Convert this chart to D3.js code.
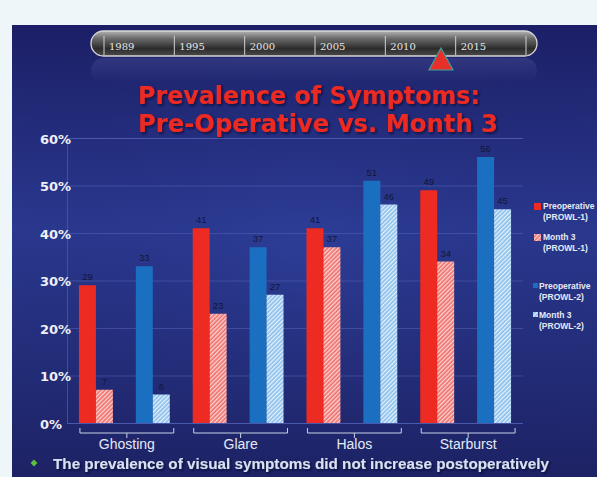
<!DOCTYPE html>
<html>
<head>
<meta charset="utf-8">
<script src="https://cdn.jsdelivr.net/npm/d3@7"></script>
<style>
  body { margin: 0; background: #eef6fa; }
  svg { display: block; }
</style>
</head>
<body>
<svg id="chart" width="597" height="477"></svg>
<script>
// Symptom prevalence (%) by study and visit
const categories = ["Ghosting", "Glare", "Halos", "Starburst"];
const preProwl1 = [29, 41, 41, 49];
const month3Prowl1 = [7, 23, 37, 34];
const preProwl2 = [33, 37, 51, 56];
const month3Prowl2 = [6, 27, 46, 45];
const yTicks = [0, 10, 20, 30, 40, 50, 60];
const timelineYears = ["1989", "1995", "2000", "2005", "2010", "2015"];
const titleLines = ["Prevalence of Symptoms:", "Pre-Operative vs. Month 3"];
const legendLabels = [
  ["Preoperative", "(PROWL-1)"],
  ["Month 3", "(PROWL-1)"],
  ["Preoperative", "(PROWL-2)"],
  ["Month 3", "(PROWL-2)"]
];
const footnote = "The prevalence of visual symptoms did not increase postoperatively";

const series = [
  { study: 0, phase: "pre", values: preProwl1, fill: "#ee2b22" },
  { study: 0, phase: "m3", values: month3Prowl1, fill: "url(#hatchPink)" },
  { study: 1, phase: "pre", values: preProwl2, fill: "#1b6fc1" },
  { study: 1, phase: "m3", values: month3Prowl2, fill: "url(#hatchBlue)" }
];

const svg = d3.select("#chart");
const defs = svg.append("defs");

// slide background
const bg = defs.append("linearGradient").attr("id", "slideBg")
  .attr("x1", 0).attr("y1", 0).attr("x2", 0).attr("y2", 1);
bg.append("stop").attr("offset", "0%").attr("stop-color", "#1c1f66");
bg.append("stop").attr("offset", "45%").attr("stop-color", "#2a3990");
bg.append("stop").attr("offset", "100%").attr("stop-color", "#1d2264");

const glow = defs.append("radialGradient").attr("id", "slideGlow")
  .attr("cx", "0.5").attr("cy", "0.5").attr("r", "0.6");
glow.append("stop").attr("offset", "0%").attr("stop-color", "#3346a6").attr("stop-opacity", 0.35);
glow.append("stop").attr("offset", "100%").attr("stop-color", "#1a1d60").attr("stop-opacity", 0);

// timeline capsule shading
const cap = defs.append("linearGradient").attr("id", "capsule")
  .attr("x1", 0).attr("y1", 0).attr("x2", 0).attr("y2", 1);
cap.append("stop").attr("offset", "0%").attr("stop-color", "#b4b4b4");
cap.append("stop").attr("offset", "30%").attr("stop-color", "#6a6a6a");
cap.append("stop").attr("offset", "70%").attr("stop-color", "#2c2c2c");
cap.append("stop").attr("offset", "100%").attr("stop-color", "#4a4a4a");

const refl = defs.append("linearGradient").attr("id", "reflection")
  .attr("x1", 0).attr("y1", 0).attr("x2", 0).attr("y2", 1);
refl.append("stop").attr("offset", "0%").attr("stop-color", "#8ea0e0").attr("stop-opacity", 0.16);
refl.append("stop").attr("offset", "100%").attr("stop-color", "#8ea0e0").attr("stop-opacity", 0);

// diagonal hatching for month-3 bars
function hatch(id, base, stripe) {
  const p = defs.append("pattern").attr("id", id)
    .attr("patternUnits", "userSpaceOnUse")
    .attr("width", 3).attr("height", 3)
    .attr("patternTransform", "rotate(45)");
  p.append("rect").attr("width", 3).attr("height", 3).attr("fill", base);
  p.append("rect").attr("width", 1.3).attr("height", 3).attr("fill", stripe);
}
hatch("hatchPink", "#f0706c", "#fcd6d4");
hatch("hatchBlue", "#8cbfea", "#e4f2ff");

const shadow = defs.append("filter").attr("id", "shadow")
  .attr("x", "-5%").attr("y", "-10%").attr("width", "110%").attr("height", "130%");
shadow.append("feDropShadow").attr("dx", 1.5).attr("dy", 1.5)
  .attr("stdDeviation", 0.8).attr("flood-color", "#100c30").attr("flood-opacity", 0.85);

// slide
svg.append("rect").attr("x", 12).attr("y", 25).attr("width", 585).attr("height", 452)
  .attr("fill", "url(#slideBg)");
svg.append("rect").attr("x", 12).attr("y", 25).attr("width", 585).attr("height", 452)
  .attr("fill", "url(#slideGlow)");

// timeline
const tl = svg.append("g");
tl.append("rect").attr("x", 91).attr("y", 58).attr("width", 446).attr("height", 25)
  .attr("rx", 12.5).attr("fill", "url(#reflection)");
tl.append("rect").attr("x", 91).attr("y", 31).attr("width", 446).attr("height", 25)
  .attr("rx", 12.5).attr("fill", "url(#capsule)")
  .attr("stroke", "#d8d8d8").attr("stroke-width", 1.3);
const tx = d3.scalePoint().domain(d3.range(timelineYears.length + 1)).range([104, 526]);
tl.selectAll("line.div").data(d3.range(timelineYears.length + 1)).join("line")
  .attr("x1", d => tx(d)).attr("x2", d => tx(d))
  .attr("y1", 36).attr("y2", 55)
  .attr("stroke", "#cfcfcf").attr("stroke-width", 1);
tl.selectAll("text").data(timelineYears).join("text")
  .attr("x", (d, i) => tx(i) + 5).attr("y", 50)
  .attr("font-family", "'DejaVu Serif', 'Liberation Serif', serif")
  .attr("font-size", 10).attr("fill", "#e6e6e6")
  .text(d => d);
tl.append("path")
  .attr("d", d3.line()([[441, 48], [453, 70], [429, 70]]) + "Z")
  .attr("fill", "#e8302a").attr("stroke", "#3a9e9c").attr("stroke-width", 1.2);

// title
const title = svg.append("g").attr("filter", "url(#shadow)");
title.selectAll("text").data(titleLines).join("text")
  .attr("x", 138).attr("y", (d, i) => 103.5 + i * 28.2)
  .attr("font-family", "'DejaVu Sans', Verdana, sans-serif")
  .attr("font-weight", "bold").attr("font-size", 24)
  .attr("fill", "#ec2a20")
  .attr("textLength", (d, i) => i === 0 ? 342 : 360)
  .attr("lengthAdjust", "spacingAndGlyphs")
  .text(d => d);

// scales
const x0 = d3.scaleBand().domain(d3.range(categories.length * 2))
  .range([67, 523]).paddingInner(0.4035).paddingOuter(0.21);
const x1 = d3.scaleBand().domain(["pre", "m3"]).range([0, x0.bandwidth()]);
const y = d3.scaleLinear().domain([0, 60]).range([423, 138]);

// grid + y axis
const yAxis = svg.append("g").attr("transform", "translate(67,0)")
  .call(d3.axisLeft(y).tickValues(yTicks).tickSize(-456).tickPadding(0)
    .tickFormat(d => d + "%"));
yAxis.select(".domain").attr("stroke", "#4d5db0").attr("stroke-opacity", 0.7);
yAxis.selectAll(".tick line").attr("stroke", "#5262b8").attr("stroke-opacity", 0.55);
yAxis.selectAll(".tick text")
  .attr("x", -27).attr("dy", "0.4em")
  .attr("text-anchor", "start")
  .attr("font-family", "'DejaVu Sans', Verdana, sans-serif")
  .attr("font-weight", "bold").attr("font-size", 13)
  .attr("fill", "#eef0f8");

// bars
const bars = svg.append("g");
series.forEach(s => {
  bars.append("g").selectAll("rect").data(s.values).join("rect")
    .attr("x", (d, i) => x0(i * 2 + s.study) + x1(s.phase))
    .attr("y", d => y(d))
    .attr("width", x1.bandwidth())
    .attr("height", d => y(0) - y(d))
    .attr("fill", s.fill);
  bars.append("g").selectAll("text").data(s.values).join("text")
    .attr("x", (d, i) => x0(i * 2 + s.study) + x1(s.phase) + x1.bandwidth() / 2)
    .attr("y", d => y(d) - 5)
    .attr("text-anchor", "middle")
    .attr("font-family", "'Liberation Sans', Arial, sans-serif")
    .attr("font-size", 9.5).attr("fill", "#12163a")
    .text(d => d);
});

// category brackets
const brackets = svg.append("g");
categories.forEach((c, i) => {
  const a = x0(i * 2) + 1;
  const b = x0(i * 2 + 1) + x0.bandwidth() + 4;
  const m = (a + b) / 2;
  brackets.append("path")
    .attr("d", `M${a},428V433H${b}V428M${m},433V438`)
    .attr("fill", "none").attr("stroke", "#c9d1e6").attr("stroke-width", 1);
  brackets.append("text")
    .attr("x", m).attr("y", 448.5)
    .attr("text-anchor", "middle")
    .attr("font-family", "'Liberation Sans', Arial, sans-serif")
    .attr("font-size", 14).attr("fill", "#e4eaf5")
    .text(c);
});

// legend
const legend = svg.append("g");
legendLabels.forEach((lab, i) => {
  const s = series[i];
  const big = s.study === 0;
  const top = [203, 234, 283, 312][i];
  const lx = big ? 534 : 533;
  const size = big ? 7 : 5;
  legend.append("rect").attr("x", lx).attr("y", top)
    .attr("width", size).attr("height", size).attr("fill", s.fill);
  const tx0 = big ? 543 : 539;
  lab.forEach((t, j) => {
    legend.append("text")
      .attr("x", tx0).attr("y", top + 6 + j * 10.5)
      .attr("font-family", "'Liberation Sans', Arial, sans-serif")
      .attr("font-weight", "bold").attr("font-size", 8.5)
      .attr("fill", "#e6eaf5")
      .text(t);
  });
});

// takeaway bullet
svg.append("path")
  .attr("d", d3.symbol(d3.symbolDiamond2, 30)())
  .attr("transform", "translate(34,463)")
  .attr("fill", "#5cc03c");
svg.append("text")
  .attr("x", 53).attr("y", 468.5)
  .attr("font-family", "'Liberation Sans', Arial, sans-serif")
  .attr("font-weight", "bold").attr("font-size", 15)
  .attr("fill", "#d8e2f4")
  .attr("textLength", 496).attr("lengthAdjust", "spacingAndGlyphs")
  .attr("filter", "url(#shadow)")
  .text(footnote);
</script>
</body>
</html>
